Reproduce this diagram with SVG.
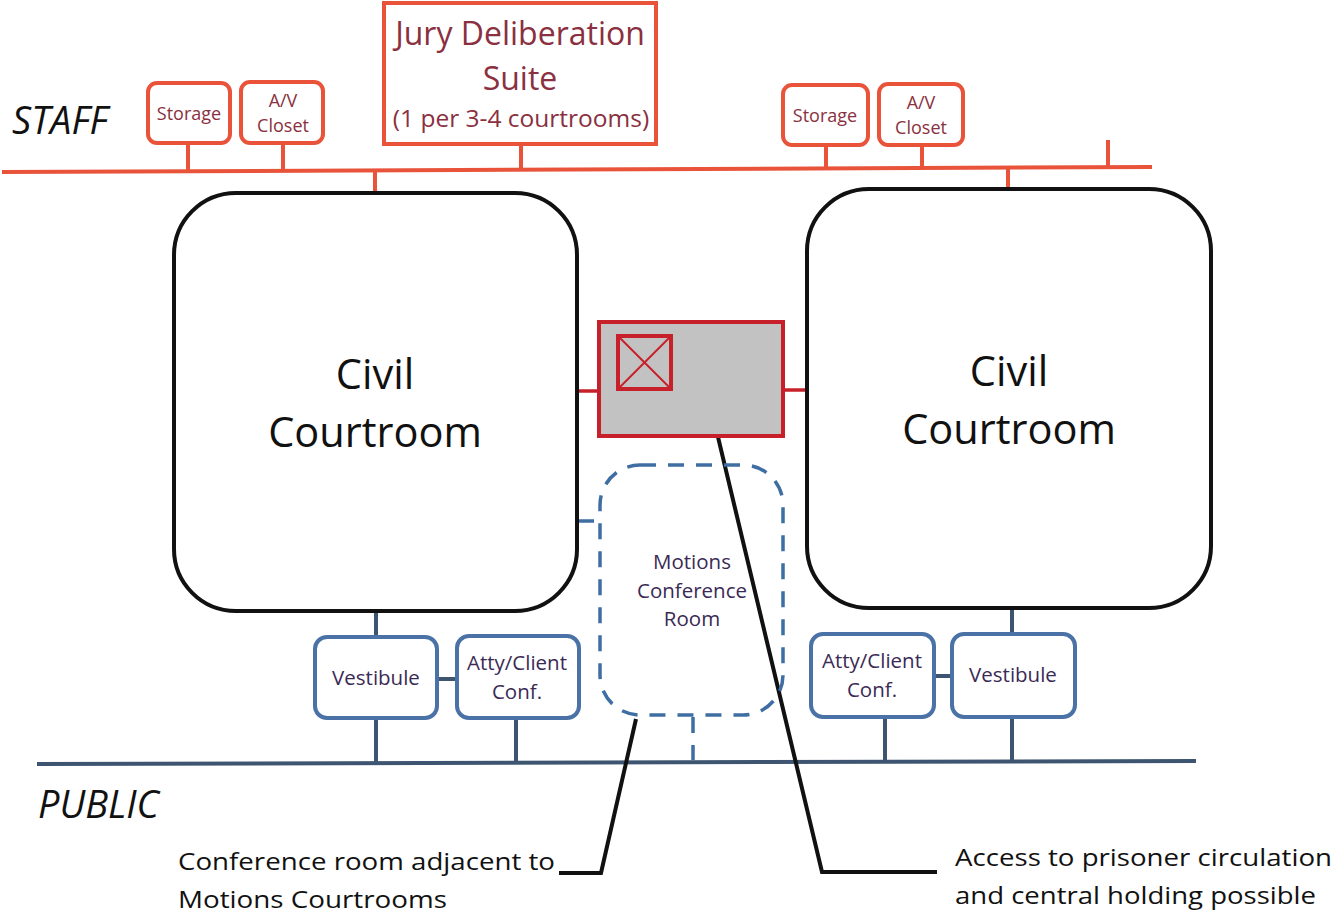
<svg xmlns="http://www.w3.org/2000/svg" width="1339" height="915" viewBox="0 0 1339 915">
<style>
.staff{stroke:#e8533a;stroke-width:4;fill:none}
.rbox{stroke:#e8533a;stroke-width:4;fill:#fff}
.rtxt{font-family:"Open Sans",sans-serif;fill:#8a3040;text-anchor:middle}
.court{stroke:#111;stroke-width:4;fill:#fff}
.ctxt{font-family:"Open Sans",sans-serif;fill:#111;text-anchor:middle;font-size:41.5px}
.bbox{stroke:#4a72a6;stroke-width:4;fill:#fff}
.btxt{font-family:"Open Sans",sans-serif;fill:#3a2a55;text-anchor:middle;font-size:20.5px}
.pub{stroke:#3d5570;stroke-width:4;fill:none}
.dash{stroke:#3f6ea3;stroke-width:3.5;fill:none;stroke-dasharray:16 12}
.call{stroke:#111;stroke-width:4;fill:none}
.note{font-family:"Open Sans",sans-serif;fill:#111;font-size:24px}
.zone{font-family:"Open Sans",sans-serif;font-style:italic;fill:#111;font-size:38px}
</style>
<rect width="1339" height="915" fill="#fff"/>
<text class="zone" x="12" y="134">STAFF</text>
<text class="zone" x="38" y="818">PUBLIC</text>
<g id="connectors">
<line class="staff" x1="2" y1="172" x2="1152" y2="167"/>
<line class="staff" x1="188" y1="143" x2="188" y2="171"/>
<line class="staff" x1="283" y1="143" x2="283" y2="171"/>
<line class="staff" x1="521" y1="144" x2="521" y2="170"/>
<line class="staff" x1="375" y1="170" x2="375" y2="194"/>
<line class="staff" x1="826" y1="145" x2="826" y2="168"/>
<line class="staff" x1="922" y1="145" x2="922" y2="168"/>
<line class="staff" x1="1108" y1="140" x2="1108" y2="168"/>
<line class="staff" x1="1008" y1="167" x2="1008" y2="190"/>
<line stroke="#c8202a" stroke-width="3.5" x1="577" y1="391" x2="598" y2="391"/>
<line stroke="#c8202a" stroke-width="3.5" x1="783" y1="390" x2="807" y2="390"/>
<line class="pub" x1="37" y1="764" x2="1196" y2="761"/>
<line class="pub" x1="376" y1="611" x2="376" y2="637"/>
<line class="pub" x1="376" y1="718" x2="376" y2="764"/>
<line class="pub" x1="437" y1="679" x2="457" y2="679"/>
<line class="pub" x1="516" y1="718" x2="516" y2="763"/>
<line class="pub" x1="885" y1="717" x2="885" y2="762"/>
<line class="pub" x1="934" y1="676" x2="952" y2="676"/>
<line class="pub" x1="1012" y1="608" x2="1012" y2="634"/>
<line class="pub" x1="1012" y1="717" x2="1012" y2="762"/>
<line stroke="#3f6ea3" stroke-width="3.5" x1="578" y1="521" x2="594" y2="521"/>
<line class="dash" x1="693" y1="717" x2="693" y2="760" stroke-dasharray="14 10"/>
<polyline class="call" points="636,719 601,873 559,873"/>
<polyline class="call" points="718,437 822,872 937,872"/>
</g>
<g id="storage-left"><rect class="rbox" x="148" y="83" width="82" height="60" rx="9"/><text class="rtxt" x="189" y="120" font-size="18">Storage</text></g>
<g id="av-left"><rect class="rbox" x="241" y="82" width="82" height="61" rx="9"/><text class="rtxt" x="283" y="107" font-size="18">A/V</text><text class="rtxt" x="283" y="132" font-size="18">Closet</text></g>
<g id="jury"><rect class="rbox" x="384" y="3" width="272" height="141"/><text class="rtxt" x="520" y="45" font-size="32">Jury Deliberation</text><text class="rtxt" x="520" y="90" font-size="32">Suite</text><text class="rtxt" x="521" y="127" font-size="24.5">(1 per 3-4 courtrooms)</text></g>
<g id="storage-right"><rect class="rbox" x="783" y="85" width="85" height="60" rx="9"/><text class="rtxt" x="825" y="122" font-size="18">Storage</text></g>
<g id="av-right"><rect class="rbox" x="879" y="84" width="84" height="61" rx="9"/><text class="rtxt" x="921" y="109" font-size="18">A/V</text><text class="rtxt" x="921" y="134" font-size="18">Closet</text></g>
<g id="court-left"><rect class="court" x="174" y="193" width="403" height="418" rx="62"/><text class="ctxt" x="375" y="389">Civil</text><text class="ctxt" x="375" y="447">Courtroom</text></g>
<g id="court-right"><rect class="court" x="807" y="189" width="404" height="419" rx="62"/><text class="ctxt" x="1009" y="386">Civil</text><text class="ctxt" x="1009" y="444">Courtroom</text></g>
<g id="holding"><rect x="599" y="322" width="184" height="114" fill="#c2c2c2" stroke="#c8202a" stroke-width="4"/><rect x="618" y="336" width="53" height="53" fill="#c2c2c2" stroke="#c8202a" stroke-width="4"/><line x1="620" y1="338" x2="669" y2="387" stroke="#c8202a" stroke-width="2"/><line x1="669" y1="338" x2="620" y2="387" stroke="#c8202a" stroke-width="2"/></g>
<g id="motions"><rect class="dash" x="600" y="465" width="183" height="250" rx="40"/><text class="btxt" x="692" y="569" font-size="20">Motions</text><text class="btxt" x="692" y="598" font-size="20">Conference</text><text class="btxt" x="692" y="626" font-size="20">Room</text></g>
<g id="vest-left"><rect class="bbox" x="315" y="637" width="122" height="81" rx="12"/><text class="btxt" x="376" y="685">Vestibule</text></g>
<g id="atty-left"><rect class="bbox" x="457" y="636" width="122" height="82" rx="12"/><text class="btxt" x="517" y="670">Atty/Client</text><text class="btxt" x="517" y="699">Conf.</text></g>
<g id="atty-right"><rect class="bbox" x="811" y="634" width="123" height="83" rx="12"/><text class="btxt" x="872" y="668">Atty/Client</text><text class="btxt" x="872" y="697">Conf.</text></g>
<g id="vest-right"><rect class="bbox" x="952" y="634" width="123" height="83" rx="12"/><text class="btxt" x="1013" y="682">Vestibule</text></g>
<g id="note-left"><text class="note" x="178" y="870" textLength="377" lengthAdjust="spacingAndGlyphs">Conference room adjacent to</text><text class="note" x="178" y="908" textLength="269" lengthAdjust="spacingAndGlyphs">Motions Courtrooms</text></g>
<g id="note-right"><text class="note" x="955" y="866" textLength="377" lengthAdjust="spacingAndGlyphs">Access to prisoner circulation</text><text class="note" x="955" y="904" textLength="361" lengthAdjust="spacingAndGlyphs">and central holding possible</text></g>
</svg>
